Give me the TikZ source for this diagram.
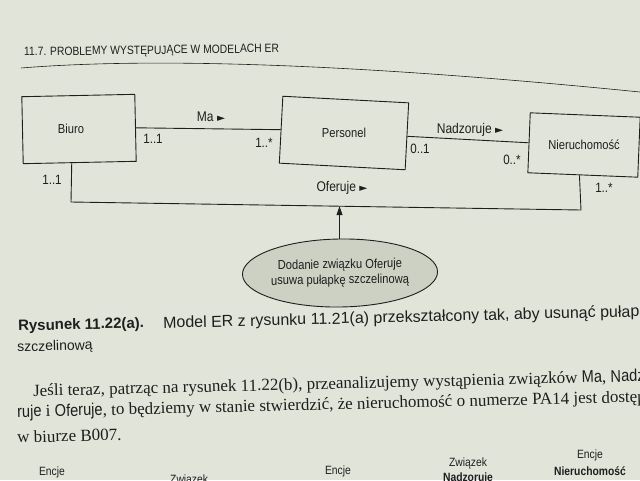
\documentclass[tikz,border=0pt]{standalone}
\usepackage{graphicx}
\usepackage{fontspec}
\setmainfont{Liberation Serif}
\newfontfamily\nsans[FakeStretch=0.86]{Liberation Sans}
\newfontfamily\csans{Liberation Sans}
\newfontfamily\symf{DejaVu Sans}
\usetikzlibrary{arrows.meta,shapes.geometric,calc}
\definecolor{paper}{RGB}{225,229,217}
\definecolor{ink}{RGB}{30,30,30}
\definecolor{bubble}{RGB}{205,209,196}
\newcommand{\tri}{{\symf\scalebox{0.75}{►}}}
\tikzset{
  entity/.style={draw=ink, line width=0.9pt, minimum width=#1, inner sep=0pt},
  entity/.default=113pt,
  ename/.style={font=\nsans\fontsize{13}{15}\selectfont, text=ink},
  rel/.style={font=\nsans\fontsize{14}{16}\selectfont, text=ink},
  mult/.style={font=\nsans\fontsize{13.5}{15}\selectfont, text=ink},
  link/.style={draw=ink, line width=0.9pt},
  note/.style={ellipse, draw=ink, line width=0.9pt, fill=bubble, align=center,
    minimum width=170pt, minimum height=68pt, inner sep=0pt,
    font=\nsans\fontsize{13}{15.5}\selectfont, text=ink},
  capt/.style={font=\csans\fontsize{16}{18}\selectfont, text=ink, anchor=west, inner sep=0pt, rotate=1.4},
  body/.style={font=\fontsize{17}{20}\selectfont, text=ink, anchor=west, inner sep=0pt, rotate=1.4},
  small/.style={font=\nsans\fontsize{12}{14}\selectfont, text=ink, inner sep=0pt},
  smallbold/.style={small, font=\nsans\bfseries\fontsize{12}{14}\selectfont},
}
\begin{document}
\begin{tikzpicture}[x=1pt,y=-1pt]
  % page
  \fill[paper] (0,0) rectangle (640,480);
  \useasboundingbox (0,0) rectangle (640,480);
  \clip (0,0) rectangle (640,480);

  % running head
  \node[font=\nsans\fontsize{12}{14}\selectfont, text=ink, anchor=west, inner sep=0pt, rotate=0.8]
    (head) at (24,53) {11.7. PROBLEMY WYSTĘPUJĄCE W MODELACH ER};
  \draw[ink, line width=0.6pt] (21,68) .. controls (120,60) and (300,58) .. (640,92);

  % entities
  \node[entity=113pt, minimum height=67pt, rotate=1.2,
        label={[ename, xshift=-8pt]center:Biuro}] (biuro) at (79,129) {};
  \node[entity=126pt, minimum height=67pt, rotate=-3,
        label={[ename]center:Personel}] (personel) at (344,133) {};
  \node[entity=110pt, minimum height=60pt, rotate=-2.3,
        label={[ename]center:Nieruchomość}] (nier) at (584,145) {};

  % relationships
  \draw[link] (biuro.east) -- (personel.west);
  \draw[link] (personel.east) -- (nier.west);

  \coordinate (b1) at ($(biuro.south west)!0.43!(biuro.south east)$);
  \coordinate (c1) at (71,202);
  \coordinate (c2) at (581,210);
  \coordinate (n1) at ($(nier.south west)!0.47!(nier.south east)$);
  \draw[link] (b1) -- (c1) -- (c2) -- (n1);

  \node[rel] (ma) at (211,117) {Ma \tri};
  \node[mult] (m1) at (153,139) {1..1};
  \node[mult] (m2) at (264,143) {1..*};
  \node[rel] (nad) at (470,130) {Nadzoruje \tri};
  \node[mult] (m3) at (420,149) {0..1};
  \node[mult] (m4) at (512,160) {0..*};
  \node[mult] (m5) at (52,180) {1..1};
  \node[rel] (ofe) at (342,188) {Oferuje \tri};
  \node[mult] (m6) at (604,188) {1..*};

  % note
  \node[note, rotate=0.8] (dod) at (340,273) {Dodanie związku Oferuje\\usuwa pułapkę szczelinową};
  \coordinate (hit) at ($(c1)!0.527!(c2)$);
  \draw[link, -{Triangle[length=9pt, width=6pt]}] (dod.north) -- (dod.north |- hit);

  % caption
  \node[capt, font=\csans\bfseries\fontsize{15}{18}\selectfont] (cap1) at (18,327) {Rysunek 11.22(a).};
  \node[capt] (cap2) at (163,324) {Model ER z rysunku 11.21(a) przekształcony tak, aby usunąć pułapkę};
  \node[capt, font=\csans\fontsize{14}{16}\selectfont] (cap3) at (17,348) {szczelinową};

  % paragraph
  \node[body] (p1) at (33,392) {Jeśli teraz, patrząc na rysunek 11.22(b), przeanalizujemy wystąpienia związków {\nsans Ma}, {\nsans Nadzo}};
  \node[body] (p2) at (17,413) {{\nsans ruje} i {\nsans Oferuje}, to będziemy w stanie stwierdzić, że nieruchomość o numerze PA14 jest dostępna};
  \node[body] (p3) at (17,437) {w biurze B007.};

  % headings of the next figure
  \node[small] (t1) at (52,472) {Encje};
  \node[small, anchor=west] (t2) at (170,480) {Związek};
  \node[small] (t3) at (338,471) {Encje};
  \node[small] (t4) at (468,463) {Związek};
  \node[smallbold] (t5) at (468,478) {Nadzoruje};
  \node[small] (t6) at (590,455) {Encje};
  \node[smallbold] (t7) at (590,471) {Nieruchomość};
\end{tikzpicture}
\end{document}
